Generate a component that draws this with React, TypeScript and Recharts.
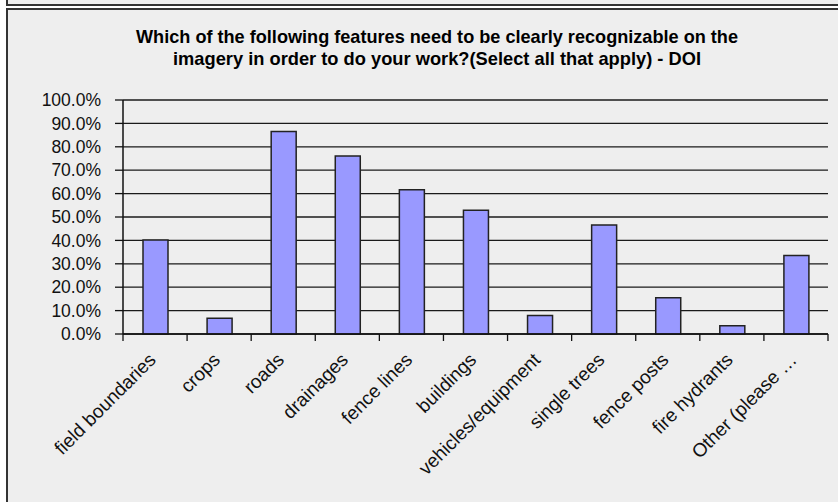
import { Bar, BarChart, CartesianGrid, XAxis, YAxis } from "recharts";

const categories = [
  "field boundaries",
  "crops",
  "roads",
  "drainages",
  "fence lines",
  "buildings",
  "vehicles/equipment",
  "single trees",
  "fence posts",
  "fire hydrants",
  "Other (please \u2026",
];
const percents = [40.2, 6.7, 86.5, 76.1, 61.6, 52.9, 7.9, 46.6, 15.5, 3.5, 33.5];
const yTicks = [0, 10, 20, 30, 40, 50, 60, 70, 80, 90, 100];
const titleLines = [
  "Which of the following features need to be clearly recognizable on the",
  "imagery in order to do your work?(Select all that apply) - DOI",
];

const data = categories.map((name, i) => ({ name, value: percents[i] }));

const W = 838;
const H = 502;
const PLOT_LEFT = 123;
const PLOT_RIGHT = 10;
const X_AXIS_H = 168;
const AXIS_Y = H - X_AXIS_H;
const BAND = (W - PLOT_LEFT - PLOT_RIGHT) / categories.length;
const FONT = "'Liberation Sans', Arial, sans-serif";

// ticks sit on the category boundaries, labels end under the bar centre
function CategoryTick(props: any) {
  const { x, payload, index } = props;
  const last = index === categories.length - 1;
  const lx = x + 2;
  const ly = AXIS_Y + 27;
  return (
    <g>
      <line x1={x - BAND / 2} x2={x - BAND / 2} y1={AXIS_Y} y2={AXIS_Y + 7} stroke="#111" strokeWidth={1.3} />
      {last && (
        <line x1={x + BAND / 2} x2={x + BAND / 2} y1={AXIS_Y} y2={AXIS_Y + 7} stroke="#111" strokeWidth={1.3} />
      )}
      <text
        x={lx}
        y={ly}
        textAnchor="end"
        fontFamily={FONT}
        fontSize={19}
        fill="#111"
        transform={`rotate(-45, ${lx}, ${ly})`}
      >
        {payload.value}
      </text>
    </g>
  );
}

export default function App() {
  return (
    <div style={{ position: "absolute", left: 0, top: 0, width: W, height: H, background: "#fff", overflow: "hidden" }}>
      <div
        style={{
          position: "absolute",
          left: 6,
          top: -20,
          width: 840,
          height: 22,
          border: "2px solid #333",
          background: "#eeeeee",
        }}
      />
      <div
        style={{
          position: "absolute",
          left: 6,
          top: 8,
          width: 840,
          height: 510,
          border: "2px solid #333",
          background: "#eeeeee",
        }}
      />
      <svg style={{ position: "absolute", left: 0, top: 0 }} width={W} height={80}>
        {titleLines.map((t, i) => (
          <text
            key={i}
            x={437}
            y={43 + i * 22}
            textAnchor="middle"
            fontFamily={FONT}
            fontWeight="bold"
            fontSize={18.5}
            fill="#000"
            textLength={i === 0 ? 602 : 528}
            lengthAdjust="spacingAndGlyphs"
          >
            {t}
          </text>
        ))}
      </svg>
      <div style={{ position: "absolute", left: 0, top: 0 }}>
        <BarChart
          width={W}
          height={H}
          data={data}
          margin={{ top: 100, right: PLOT_RIGHT, left: 0, bottom: 0 }}
          barCategoryGap={0}
        >
          <CartesianGrid vertical={false} stroke="#1a1a1a" strokeWidth={1.3} />
          <XAxis
            dataKey="name"
            interval={0}
            height={X_AXIS_H}
            tickLine={false}
            axisLine={{ stroke: "#111", strokeWidth: 1.5 }}
            tick={<CategoryTick />}
          />
          <YAxis
            width={PLOT_LEFT}
            domain={[0, 100]}
            ticks={yTicks}
            interval={0}
            tickSize={8}
            tickMargin={14}
            tickLine={{ stroke: "#111", strokeWidth: 1.3 }}
            axisLine={{ stroke: "#111", strokeWidth: 1.5 }}
            tick={{ fontFamily: FONT, fontSize: 17.5, fill: "#111" }}
            tickFormatter={(v: number) => `${v.toFixed(1)}%`}
          />
          <Bar
            dataKey="value"
            fill="#9999ff"
            stroke="#222"
            strokeWidth={1.5}
            barSize={25}
            isAnimationActive={false}
          />
        </BarChart>
      </div>
    </div>
  );
}
